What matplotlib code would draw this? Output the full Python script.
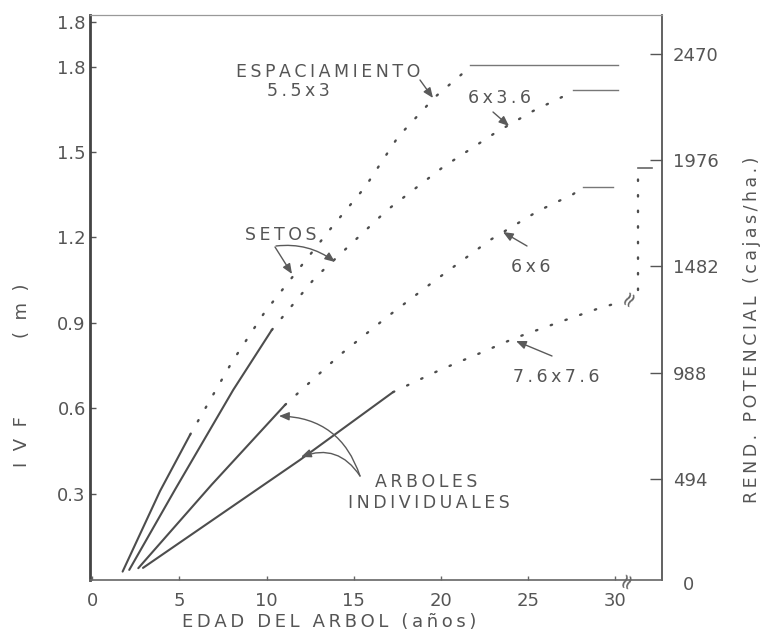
import matplotlib
matplotlib.use('Agg')
import matplotlib.pyplot as plt
from matplotlib.patches import FancyArrowPatch

# ---------------- data ----------------
# Arboles individuales (solid)
x_ind_55x3 = [1.74, 3.89, 5.61]
y_ind_55x3 = [0.027, 0.31, 0.507]
x_ind_6x36 = [2.12, 4.75, 8.09, 10.3]
y_ind_6x36 = [0.033, 0.315, 0.665, 0.875]
x_ind_6x6 = [2.64, 6.85, 11.06]
y_ind_6x6 = [0.039, 0.332, 0.612]
x_ind_76 = [2.91, 11.92, 17.26]
y_ind_76 = [0.04, 0.419, 0.657]

# Setos (dotted)
x_set_55x3 = [5.61, 8.02, 9.91, 13.76, 15.66, 17.55, 19.67, 21.28, 21.68]
y_set_55x3 = [0.507, 0.763, 0.939, 1.237, 1.377, 1.553, 1.693, 1.777, 1.805]
x_set_6x36 = [10.3, 12.78, 16.92, 20.13, 23.12, 25.3, 26.96, 27.6]
y_set_6x36 = [0.875, 1.058, 1.296, 1.447, 1.567, 1.644, 1.693, 1.717]
x_set_6x6 = [11.06, 14.22, 16.92, 19.56, 22.83, 25.59, 27.6, 28.17]
y_set_6x6 = [0.612, 0.788, 0.921, 1.044, 1.191, 1.293, 1.352, 1.377]
x_set_76 = [17.26, 19.96, 22.26, 24.26, 26.68, 28.97, 30.29]
y_set_76 = [0.657, 0.735, 0.794, 0.847, 0.90, 0.949, 0.973]

# Plateaus (max IVF)
x_max_55x3 = [21.68, 30.18]
y_max_55x3 = [1.805, 1.805]
x_max_6x36 = [27.6, 30.18]
y_max_6x36 = [1.717, 1.717]
x_max_6x6 = [28.17, 29.89]
y_max_6x6 = [1.377, 1.377]

# bracket for 7.6 x 7.6
x_brk_v = [31.33, 31.33]
y_brk_v = [1.015, 1.444]
x_brk_h = [31.33, 32.13]
y_brk_h = [1.444, 1.444]

x_ticks = [0, 5, 10, 15, 20, 25, 30]
x_ticklabels = ['0', '5', '10', '15', '20', '25', '30']
y_ticks = [0.3, 0.6, 0.9, 1.2, 1.5, 1.8, 1.957]
y_ticklabels = ['0.3', '0.6', '0.9', '1.2', '1.5', '1.8', '1.8']
r_ticks = [494, 988, 1482, 1976, 2470]
r_ticklabels = ['494', '988', '1482', '1976', '2470']

# ---------------- drawing ----------------
W, H = 762, 635
fig = plt.figure(figsize=(W / 100, H / 100), dpi=100)
fig.patch.set_facecolor('white')

def F(px, py):
    return (px / W, 1 - py / H)

TXT = '#555555'
LIN = '#4d4d4d'

def sp(s):
    return '\u2009'.join(s)

ax = fig.add_axes([90 / W, 1 - 580 / H, (662 - 90) / W, (580 - 15) / H])
ax.set_xlim(-0.132, 32.70)
ax.set_ylim(-0.0025, 1.981)

solid_kw = dict(color=LIN, lw=1.5, solid_capstyle='round', solid_joinstyle='round')
dot_kw = dict(color=LIN, lw=1.7, linestyle=(0, (0.6, 6.0)), dash_capstyle='round')

for xs, ys in [(x_ind_55x3, y_ind_55x3), (x_ind_6x36, y_ind_6x36),
               (x_ind_6x6, y_ind_6x6), (x_ind_76, y_ind_76)]:
    ax.plot(xs, ys, **solid_kw)

for xs, ys in [(x_set_55x3, y_set_55x3), (x_set_6x36, y_set_6x36),
               (x_set_6x6, y_set_6x6), (x_set_76, y_set_76)]:
    ax.plot(xs, ys, **dot_kw)

for xs, ys in [(x_max_55x3, y_max_55x3), (x_max_6x36, y_max_6x36),
               (x_max_6x6, y_max_6x6)]:
    ax.plot(xs, ys, color='#777777', lw=1.0)

ax.plot(x_brk_v, y_brk_v, **dot_kw)
ax.plot(x_brk_h, y_brk_h, color='#666666', lw=1.2)

# spines
ax.spines['left'].set_linewidth(2.0)
ax.spines['left'].set_color('#444444')
ax.spines['right'].set_linewidth(1.3)
ax.spines['right'].set_color('#555555')
ax.spines['bottom'].set_linewidth(1.2)
ax.spines['bottom'].set_color('#666666')
ax.spines['top'].set_linewidth(0.9)
ax.spines['top'].set_color('#999999')

ax.set_xticks(x_ticks)
ax.set_xticklabels(x_ticklabels)
ax.set_yticks(y_ticks)
ax.set_yticklabels(y_ticklabels)
ax.tick_params(axis='x', direction='in', length=3, width=1, color='#666666',
               pad=9, labelsize=13, labelcolor=TXT)
ax.tick_params(axis='y', direction='in', length=4, width=1, color='#555555',
               pad=3, labelsize=13, labelcolor=TXT)

ax2 = ax.twinx()
ax2.set_ylim(25.5, 2650)
ax2.set_yticks(r_ticks)
ax2.set_yticklabels(r_ticklabels)
ax2.tick_params(axis='y', direction='in', length=9, width=1, color='#555555',
                pad=8, labelsize=13, labelcolor=TXT)
for s in ax2.spines.values():
    s.set_visible(False)
fig.text(*F(688, 585), '0', ha='center', va='center', fontsize=13, color=TXT)

# axis labels
fig.text(*F(329, 622), sp('EDAD DEL ARBOL (años)'), ha='center', va='center',
         fontsize=13, color=TXT)
fig.text(*F(22, 442), 'I  V  F', rotation=90, ha='center', va='center',
         fontsize=13, color=TXT)
fig.text(*F(22, 311), '(  m  )', rotation=90, ha='center', va='center',
         fontsize=13, color=TXT)
fig.text(*F(752, 330), sp('REND. POTENCIAL (cajas/ha.)'), rotation=90,
         ha='center', va='center', fontsize=12.5, color=TXT)

# annotations
labels = [
    ('ESPACIAMIENTO', 328, 72),
    ('5.5x3', 298, 91),
    ('6x3.6', 499, 98),
    ('SETOS', 281, 235),
    ('6x6', 531, 267),
    ('7.6x7.6', 556, 377),
    ('ARBOLES', 426, 482),
    ('INDIVIDUALES', 429, 503),
]
for t, px, py in labels:
    fig.text(*F(px, py), sp(t), ha='center', va='center', fontsize=12.5,
             color=TXT)

arrows = [
    ((420, 80), (433, 98), 0.0),
    ((493, 112), (509, 126), 0.0),
    ((275, 247), (292, 274), 0.0),
    ((276, 246), (335, 262), -0.2),
    ((527, 246), (503, 232), 0.0),
    ((552, 356), (516, 341), 0.0),
    ((360, 476), (279, 416), 0.35),
    ((360, 476), (301, 457), 0.4),
]
for (tx, ty), (hx, hy), rad in arrows:
    fig.add_artist(FancyArrowPatch(
        F(tx, ty), F(hx, hy), transform=fig.transFigure,
        arrowstyle='-|>,head_length=6,head_width=2.5',
        connectionstyle=f'arc3,rad={rad}', color='#5a5a5a', lw=1.0,
        shrinkA=0, shrinkB=0))

# break marks
fig.text(*F(629, 298), '≈', rotation=60, ha='center', va='center',
         fontsize=15, color='#666666')
fig.text(*F(627, 580), '≈', rotation=70, ha='center', va='center',
         fontsize=15, color='#666666')

fig.savefig('out.png', dpi=100, facecolor='white')
